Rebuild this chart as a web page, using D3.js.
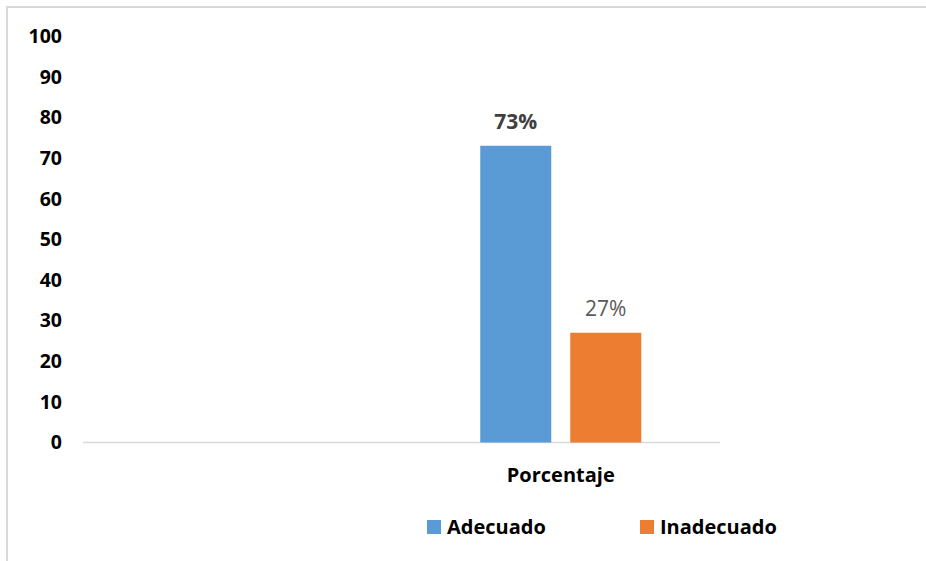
<!DOCTYPE html>
<html><head><meta charset="utf-8">
<script src="https://cdn.jsdelivr.net/npm/d3@7"></script>
<style>body{margin:0;background:#fff}svg{display:block}</style>
</head><body>
<script>
const categories = ["", "Porcentaje"];
const seriesNames = ["Adecuado", "Inadecuado"];
const adecuado = [null, 73];
const inadecuado = [null, 27];
const labels = ["73%", "27%"];
const yTicks = [0,10,20,30,40,50,60,70,80,90,100];
const colors = ["#5b9bd5", "#ed7d31"];

const W = 926, H = 561;
const font = "'Open Sans', sans-serif";
const svg = d3.select("body").append("svg").attr("width", W).attr("height", H);

// chart border
svg.append("rect").attr("x", 7).attr("y", 7).attr("width", 960).attr("height", 600)
  .attr("fill", "none").attr("stroke", "#d9d9d9").attr("stroke-width", 2);

const x0 = d3.scaleBand().domain(categories).range([83, 720]).paddingInner(0).paddingOuter(0);
const y = d3.scaleLinear().domain([0, 100]).range([442.5, 36]);
const barW = 71, gap = 19;
const x1 = d3.scaleOrdinal().domain(seriesNames).range([-(barW + gap/2), gap/2]);

// y tick labels
const yAxis = d3.axisLeft(y).tickValues(yTicks).tickSize(0).tickPadding(0);
const ga = svg.append("g").attr("transform", "translate(62,0)").call(yAxis);
ga.select(".domain").remove();
ga.selectAll("text").attr("font-family", font).attr("font-weight", "bold")
  .attr("font-size", 19.5).attr("fill", "#000").attr("dy", "0.33em");

// baseline
svg.append("line").attr("x1", 83).attr("x2", 720).attr("y1", y(0)).attr("y2", y(0))
  .attr("stroke", "#d9d9d9").attr("stroke-width", 1.5);

const data = [];
categories.forEach((c, i) => {
  if (adecuado[i] != null) data.push({cat: c, s: "Adecuado", v: adecuado[i], c: colors[0], lab: labels[0], bold: true});
  if (inadecuado[i] != null) data.push({cat: c, s: "Inadecuado", v: inadecuado[i], c: colors[1], lab: labels[1], bold: false});
});

const cx = c => x0(c) + x0.bandwidth() / 2;
svg.selectAll("rect.bar").data(data).enter().append("rect").attr("class", "bar")
  .attr("x", d => cx(d.cat) + x1(d.s)).attr("width", barW)
  .attr("y", d => y(d.v)).attr("height", d => y(0) - y(d.v)).attr("fill", d => d.c);

svg.selectAll("text.lab").data(data).enter().append("text").attr("class", "lab")
  .attr("x", d => cx(d.cat) + x1(d.s) + barW / 2).attr("y", d => y(d.v) - 17)
  .attr("text-anchor", "middle").attr("font-family", font).attr("font-size", 21)
  .attr("font-weight", d => d.bold ? "bold" : "normal")
  .attr("fill", d => d.bold ? "#404040" : "#595959").text(d => d.lab);

// category labels
svg.selectAll("text.cat").data(categories).enter().append("text").attr("class", "cat")
  .attr("x", d => cx(d)).attr("y", 482).attr("text-anchor", "middle")
  .attr("font-family", font).attr("font-weight", "bold").attr("font-size", 20)
  .attr("fill", "#000").text(d => d);

// legend
const legX = [427, 640];
const lg = svg.selectAll("g.leg").data(seriesNames).enter().append("g").attr("class", "leg")
  .attr("transform", (d, i) => `translate(${legX[i]},520)`);
lg.append("rect").attr("width", 14).attr("height", 14).attr("fill", (d, i) => colors[i]);
lg.append("text").attr("x", 20).attr("y", 14).attr("font-family", font).attr("font-weight", "bold")
  .attr("font-size", 20).attr("fill", "#000").text(d => d);
</script>
</body></html>
